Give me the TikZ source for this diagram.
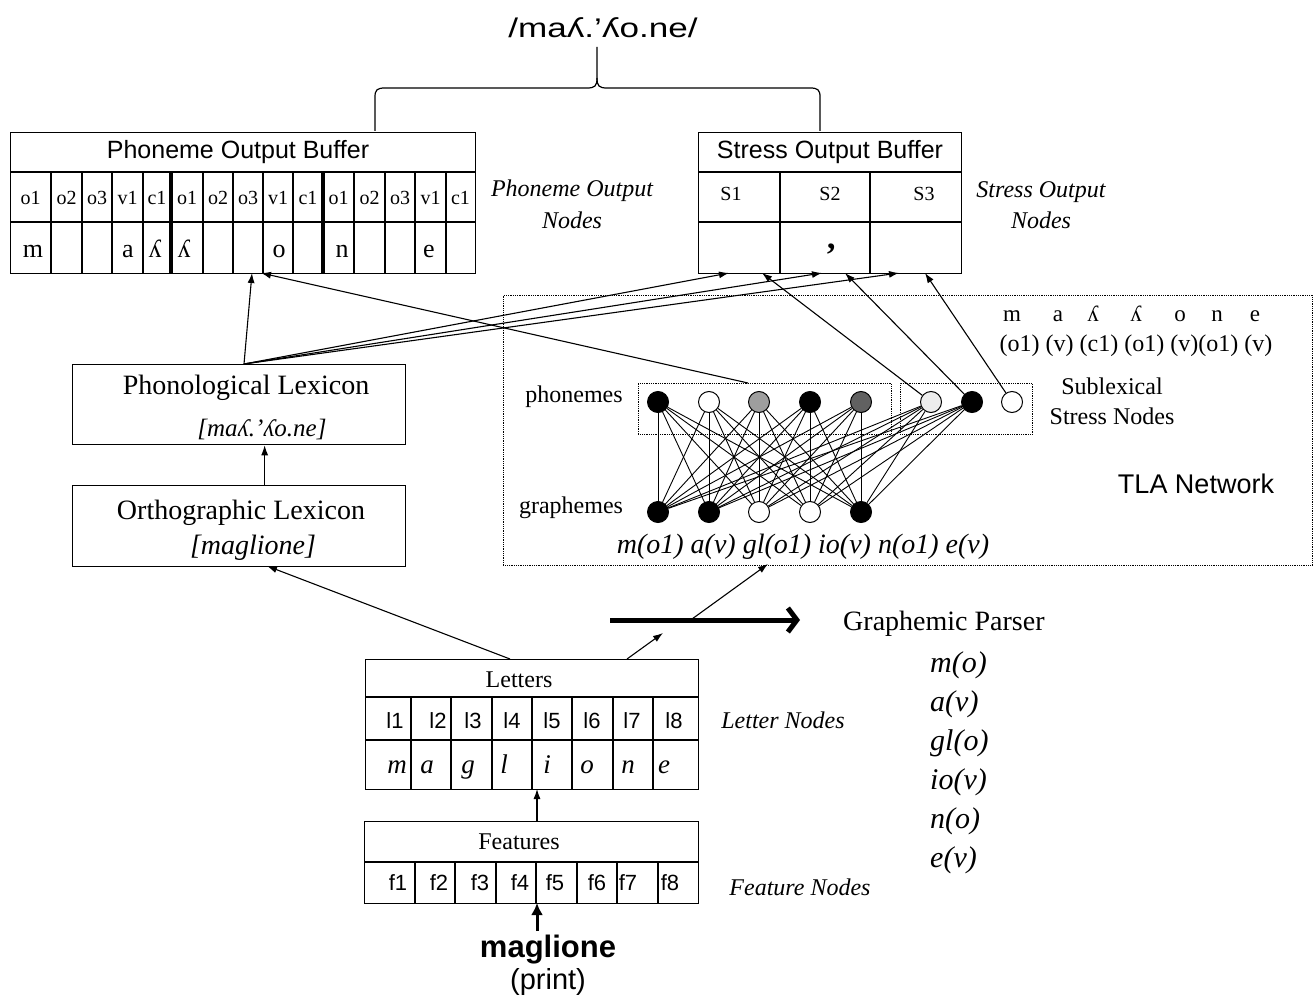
\documentclass[tikz,border=0pt]{standalone}
\usepackage{fontspec}
\setmainfont{Liberation Serif}
\setsansfont{Liberation Sans}
\usetikzlibrary{arrows.meta,calc}
\newcommand{\fsz}[1]{\fontsize{#1pt}{#1pt}\selectfont}
\begin{document}
\begin{tikzpicture}[x=1pt,y=-1pt,
  box/.style={draw, line width=1.3pt, inner sep=0pt, anchor=north west},
  dotbox/.style={draw, densely dotted, line width=0.8pt, inner sep=0pt, anchor=north west},
  ln/.style={line width=1.2pt},
  thk/.style={line width=4.5pt},
  arr/.style={line width=1.1pt, -{Latex[length=10pt,width=7pt]}},
  net/.style={line width=0.9pt},
  neur/.style={circle, draw, line width=1pt, minimum size=21pt, inner sep=0pt},
  txt/.style={inner sep=0pt, font=\fsz{20}},
  lab/.style={inner sep=0pt, font=\fsz{24}\itshape},
  big/.style={inner sep=0pt, font=\fsz{28}},
]
\useasboundingbox (0,0) rectangle (1313,1000);

% ---------- title and brace ----------
\node[inner sep=0pt, font=\sffamily\fsz{27}, anchor=base] (title) at (603,38) {\scalebox{1.3}[1]{/maʎ.’ʎo.ne/}};
\coordinate (btip) at (597,47);
\draw[ln] (375,131) -- (375,97) .. controls (375,90) and (377,88) .. (385,88) -- (587,88)
  .. controls (595,88) and (597,86) .. (597,78) -- (btip);
\draw[ln] (820,131) -- (820,97) .. controls (820,90) and (818,88) .. (810,88) -- (607,88)
  .. controls (599,88) and (597,86) .. (597,78);

% ---------- Phoneme Output Buffer ----------
\node[box, minimum width=465pt, minimum height=141pt] (pob) at (10,132) {};
\draw[ln] (10,172) -- (475,172) (10,222) -- (475,222);
\foreach \x in {51,82,112,143,203,233,263,293,354,385,415,446}
  \draw[ln] (\x,172) -- (\x,273);
\draw[thk] (171,172) -- (171,273);
\draw[thk] (323,172) -- (323,273);
\node[inner sep=0pt, font=\sffamily\fsz{25}] (pobh) at (238,152) {Phoneme Output Buffer};
\foreach \x/\t [count=\k] in {30.5/o1,66.5/o2,97/o3,127.5/v1,157/c1,187/o1,218/o2,248/o3,278/v1,308/c1,338.5/o1,369.5/o2,400/o3,430.5/v1,460.5/c1}
  \node[txt, anchor=base] (pl\k) at (\x,205) {\t};
\foreach \x/\t [count=\k] in {33/m,128/a,155/ʎ,184/ʎ,279/o,342/n,429/e}
  \node[inner sep=0pt, font=\fsz{26}, anchor=base] (pc\k) at (\x,258) {\t};
\node[lab] (pon1) at (572,191) {Phoneme Output};
\node[lab] (pon2) at (572,220) {Nodes};

% ---------- Stress Output Buffer ----------
\node[box, minimum width=263pt, minimum height=141pt] (sob) at (698,132) {};
\draw[ln] (698,172) -- (961,172) (698,222) -- (961,222);
\draw[ln] (780,172) -- (780,273) (870,172) -- (870,273);
\node[inner sep=0pt, font=\sffamily\fsz{25}] (sobh) at (830,152) {Stress Output Buffer};
\node[txt, anchor=base] (s1l) at (731,201) {S1};
\node[txt, anchor=base] (s2l) at (830,201) {S2};
\node[txt, anchor=base] (s3l) at (924,201) {S3};
\node[inner sep=0pt, font=\fsz{34}\bfseries] (smark) at (831,255) {’};
\node[lab] (son1) at (1041,192) {Stress Output};
\node[lab] (son2) at (1041,220) {Nodes};

% arrow target coordinates on buffers
\coordinate (pobA) at (252,273);
\coordinate (pobB) at (261,273);
\coordinate (sobA) at (729,273);
\coordinate (sobB) at (822,273);
\coordinate (sobC) at (899,273);
\coordinate (sobD) at (762,273);
\coordinate (sobE) at (845,273);
\coordinate (sobF) at (925,273);

% ---------- Lexicons ----------
\node[box, minimum width=333pt, minimum height=80pt] (phlex) at (72,364) {};
\node[big] (phlext) at (246,388) {Phonological Lexicon};
\node[inner sep=0pt, font=\fsz{25}\itshape, anchor=base] (phlexw) at (262,436) {[maʎ.’ʎo.ne]};
\node[box, minimum width=333pt, minimum height=81pt] (orth) at (72,485) {};
\node[big] (ortht) at (241,513) {Orthographic Lexicon};
\node[inner sep=0pt, font=\fsz{28}\itshape] (orthw) at (253,548) {[maglione]};
\coordinate (phtop) at (244,364);

% ---------- TLA network ----------
\node[dotbox, minimum width=809pt, minimum height=270pt] (tla) at (503,295) {};
\node[dotbox, minimum width=253pt, minimum height=51pt] (pbox) at (638,383) {};
\node[dotbox, minimum width=132pt, minimum height=51pt] (sbox) at (900,383) {};
\coordinate (pboxtop) at (748,383);
\foreach \x/\c [count=\k] in {658/black,709/white,759/black!38,810/black,861/black!62}
  \node[neur, fill=\c] (p\k) at (\x,402) {};
\foreach \x/\c [count=\k] in {931/black!7,972/black,1012/white}
  \node[neur, fill=\c] (s\k) at (\x,402) {};
\foreach \x/\c [count=\k] in {658/black,709/black,759/white,810/white,861/black}
  \node[neur, fill=\c] (g\k) at (\x,512) {};
\foreach \i in {1,...,5}{
  \foreach \j in {1,...,5} \draw[net] (g\i) -- (p\j);
  \foreach \j in {1,2} \draw[net] (g\i) -- (s\j);
}
\node[inner sep=0pt, font=\fsz{24}] (phon) at (574,397) {phonemes};
\node[inner sep=0pt, font=\fsz{24}] (graph) at (571,508) {graphemes};
\node[inner sep=0pt, font=\fsz{28}\itshape] (glab) at (803,547) {m(o1) a(v) gl(o1) io(v) n(o1) e(v)};
\coordinate (glabarr) at (768,564);
\foreach \x/\t [count=\k] in {1012/m,1058/a,1093/ʎ,1136/ʎ,1180/o,1217/n,1255/e}
  \node[inner sep=0pt, font=\fsz{23}, anchor=base] (sp\k) at (\x,321) {\t};
\node[inner sep=0pt, font=\fsz{24}] (sprole) at (1136,346) {(o1) (v) (c1) (o1) (v)(o1) (v)};
\node[inner sep=0pt, font=\fsz{24}] (subl1) at (1112,386) {Sublexical};
\node[inner sep=0pt, font=\fsz{24}] (subl2) at (1112,416) {Stress Nodes};
\node[inner sep=0pt, font=\sffamily\fsz{27}] (tlat) at (1196,484) {TLA Network};

% ---------- connectors to buffers ----------
\draw[arr] (phtop) -- (pobA);
\draw[arr] (phtop) -- (sobA);
\draw[arr] (phtop) -- (sobB);
\draw[arr] (phtop) -- (sobC);
\draw[arr] (pboxtop) -- (pobB);
\draw[arr] (s1) -- (sobD);
\draw[arr] (s2) -- (sobE);
\draw[arr] (s3) -- (sobF);
\draw[arr] ([xshift=25.5pt]orth.north) -- ([xshift=25.5pt]phlex.south);

% ---------- Letters ----------
\node[box, minimum width=333pt, minimum height=130pt] (let) at (365,659) {};
\draw[ln] (365,697) -- (698,697) (365,740) -- (698,740);
\foreach \x in {411,451,492,532,572,613,653}
  \draw[ln] (\x,697) -- (\x,789);
\node[inner sep=0pt, font=\fsz{24}] (lett) at (519,680) {Letters};
\foreach \x/\t [count=\k] in {395/l1,438/l2,473/l3,512/l4,552/l5,592/l6,632/l7,674/l8}
  \node[inner sep=0pt, font=\sffamily\fsz{22}, anchor=base] (ll\k) at (\x,728) {\t};
\foreach \x/\t [count=\k] in {397/m,427/a,468/g,504/l,547/i,587/o,628/n,664/e}
  \node[inner sep=0pt, font=\fsz{27}\itshape, anchor=base] (lc\k) at (\x,773) {\t};
\node[lab] (letn) at (783,720) {Letter Nodes};

% ---------- Features ----------
\node[box, minimum width=334pt, minimum height=82pt] (feat) at (364,821) {};
\draw[ln] (364,862) -- (698,862);
\foreach \x in {415,455,496,536,577,617,658}
  \draw[ln] (\x,862) -- (\x,903);
\node[inner sep=0pt, font=\fsz{24}] (featt) at (519,842) {Features};
\foreach \x/\t [count=\k] in {398/f1,439/f2,480/f3,520/f4,555/f5,597/f6,628/f7,670/f8}
  \node[inner sep=0pt, font=\sffamily\fsz{22}, anchor=base] (ff\k) at (\x,890) {\t};
\node[lab] (featn) at (800,887) {Feature Nodes};

% ---------- input ----------
\node[inner sep=0pt, font=\sffamily\bfseries\fsz{31}, anchor=base] (word) at (548,957) {maglione};
\node[inner sep=0pt, font=\sffamily\fsz{29}] (print) at (548,982) {(print)};
\coordinate (wordtop) at (537,931);
\coordinate (featbot) at (537,903);
\coordinate (feattop) at (537,821);
\coordinate (letbot) at (537,789);
\draw[line width=3pt, -{Latex[length=12pt,width=12pt]}] (wordtop) -- (featbot);
\draw[arr] (feattop) -- (letbot);

% ---------- letters to lexicon and parser ----------
\coordinate (letA) at (510,659);
\coordinate (orthB) at (267,566);
\draw[arr] (letA) -- (orthB);
\coordinate (letB) at (627,659);
\coordinate (parsA) at (663,633);
\draw[arr] (letB) -- (parsA);
\coordinate (thkA) at (610,620);
\coordinate (thkB) at (800,620);
\draw[line width=5pt, -{Straight Barb[length=9pt,width=24pt,line width=5pt]}] (thkA) -- (thkB);
\coordinate (thkC) at (692,619);
\draw[arr] (thkC) -- (glabarr);
\node[inner sep=0pt, font=\fsz{28}, anchor=west] (parser) at (843,624) {Graphemic Parser};
\foreach \y/\t [count=\k] in {665/m(o),704/a(v),743/gl(o),782/io(v),821/n(o),860/e(v)}
  \node[inner sep=0pt, font=\fsz{30}\itshape, anchor=west] (gp\k) at (930,\y) {\t};
\end{tikzpicture}
\end{document}
